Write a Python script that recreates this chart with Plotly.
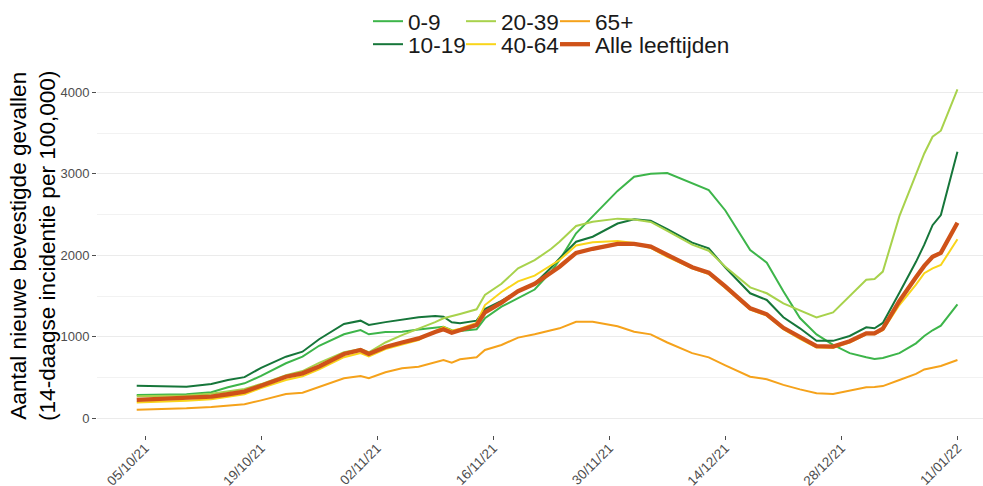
import plotly.graph_objects as go

dates = [
    "2021-10-04", "2021-10-07", "2021-10-10", "2021-10-13", "2021-10-15",
    "2021-10-17", "2021-10-19", "2021-10-22", "2021-10-24", "2021-10-26",
    "2021-10-29", "2021-10-31", "2021-11-01", "2021-11-03", "2021-11-05",
    "2021-11-07", "2021-11-09", "2021-11-10", "2021-11-11", "2021-11-12",
    "2021-11-14", "2021-11-15", "2021-11-17", "2021-11-19", "2021-11-21",
    "2021-11-23", "2021-11-24", "2021-11-26", "2021-11-28", "2021-12-01",
    "2021-12-03", "2021-12-05", "2021-12-07", "2021-12-10", "2021-12-12",
    "2021-12-14", "2021-12-17", "2021-12-19", "2021-12-21", "2021-12-23",
    "2021-12-25", "2021-12-27", "2021-12-29", "2021-12-31", "2022-01-01",
    "2022-01-02", "2022-01-04", "2022-01-06", "2022-01-07", "2022-01-08",
    "2022-01-09", "2022-01-11",
]

age_0_9 = [285, 290, 294, 320, 380, 429, 520, 675, 756, 890,
           1031, 1083, 1031, 1060, 1063, 1090, 1110, 1124, 1080, 1070,
           1092, 1227, 1370, 1480, 1580, 1800, 1942, 2270, 2474, 2790,
           2964, 3000, 3010, 2883, 2801, 2550, 2065, 1909, 1560, 1230,
           1030, 900, 800, 750, 728, 740, 800, 920, 1010, 1080,
           1136, 1399]

age_10_19 = [400, 395, 388, 420, 470, 505, 620, 756, 817, 970,
             1157, 1198, 1145, 1180, 1206, 1239, 1255, 1247, 1178, 1166,
             1198, 1340, 1440, 1560, 1650, 1850, 1963, 2167, 2228, 2390,
             2442, 2425, 2320, 2155, 2086, 1850, 1534, 1452, 1240, 1104,
             952, 950, 1010, 1117, 1104, 1170, 1540, 1920, 2130, 2370,
             2494, 3271]

age_20_39 = [270, 275, 280, 300, 330, 360, 420, 530, 580, 680,
             810, 850, 810, 930, 1020, 1096, 1180, 1227, 1250, 1280,
             1337, 1513, 1650, 1840, 1940, 2080, 2167, 2360, 2412, 2450,
             2440, 2410, 2300, 2130, 2056, 1860, 1607, 1534, 1410, 1320,
             1237, 1300, 1500, 1700, 1709, 1800, 2480, 3000, 3250, 3455,
             3529, 4037]

age_40_64 = [195, 205, 215, 235, 265, 295, 370, 470, 515, 600,
             750, 800, 760, 850, 905, 960, 1070, 1120, 1075, 1100,
             1170, 1390, 1550, 1680, 1750, 1880, 1942, 2120, 2160, 2175,
             2150, 2090, 1980, 1840, 1770, 1600, 1335, 1260, 1095, 975,
             870, 865, 930, 1030, 1030, 1080, 1390, 1640, 1780, 1840,
             1881, 2196]

age_65_plus = [105, 112, 123, 140, 155, 172, 220, 298, 314, 385,
               491, 519, 491, 565, 613, 633, 690, 715, 682, 724,
               748, 838, 900, 990, 1031, 1080, 1104, 1185, 1185, 1130,
               1063, 1030, 930, 800, 748, 650, 510, 479, 410, 355,
               307, 298, 340, 380, 385, 395, 470, 545, 600, 625,
               642, 715]

alle = [225, 235, 245, 265, 295, 327, 400, 510, 552, 635,
        789, 838, 789, 875, 930, 980, 1060, 1092, 1050, 1080,
        1145, 1300, 1420, 1560, 1650, 1790, 1860, 2030, 2080, 2140,
        2140, 2106, 2000, 1853, 1787, 1620, 1350, 1276, 1110, 990,
        885, 879, 945, 1043, 1043, 1100, 1440, 1730, 1870, 1983,
        2030, 2400]

tick_dates = ["2021-10-05", "2021-10-19", "2021-11-02", "2021-11-16",
              "2021-11-30", "2021-12-14", "2021-12-28", "2022-01-11"]
tick_labels = ["05/10/21", "19/10/21", "02/11/21", "16/11/21",
               "30/11/21", "14/12/21", "28/12/21", "11/01/22"]

y_title = "Aantal nieuwe bevestigde gevallen<br>(14-daagse incidentie per 100,000)"

FONT = "Liberation Sans, Arial, sans-serif"
W, H = 983, 486
L, R, T, B = 97, 0, 73, 51

# (name, values, colour, width, legend-id, legend text left px, legend row centre px)
series = [
    ("0-9", age_0_9, "#3DB54A", 2.0, "legend", 404, 20),
    ("10-19", age_10_19, "#16763A", 2.0, "legend2", 404, 44),
    ("20-39", age_20_39, "#A8D24C", 2.0, "legend3", 497, 20),
    ("40-64", age_40_64, "#F9D51A", 2.0, "legend4", 497, 44),
    ("65+", age_65_plus, "#F5A21B", 2.0, "legend5", 591, 20),
    ("Alle leeftijden", alle, "#CF5219", 4.3, "legend6", 591, 44),
]

fig = go.Figure()
legends = {}
for name, vals, color, width, leg, tx, ty in series:
    fig.add_trace(go.Scatter(
        x=dates, y=vals, mode="lines", name=name,
        line=dict(color=color, width=width),
        legend=leg,
    ))
    legends[leg] = dict(
        xref="container", yref="container",
        x=(tx - 36) / W, y=1 - (ty - 21) / H,
        xanchor="left", yanchor="top",
        orientation="v",
        font=dict(family=FONT, size=22.6, color="#1a1a1a"),
        bgcolor="rgba(0,0,0,0)", borderwidth=0,
    )

fig.update_layout(
    width=W, height=H,
    margin=dict(l=L, r=R, t=T, b=B, autoexpand=False),
    paper_bgcolor="white", plot_bgcolor="white",
    font=dict(family=FONT),
    showlegend=True,
    **legends,
    xaxis=dict(
        type="date",
        range=["2021-09-29 05:00", "2022-01-14 02:00"],
        tickvals=tick_dates, ticktext=tick_labels,
        tickangle=-45,
        tickfont=dict(family=FONT, size=13.5, color="#4D4D4D"),
        ticklabelstandoff=-5,
        showgrid=False, zeroline=False, showline=False,
        ticks="outside", ticklen=4, tickcolor="#4D4D4D", tickwidth=1,
    ),
    yaxis=dict(
        range=[-205, 4237],
        tickvals=[0, 1000, 2000, 3000, 4000],
        ticktext=["0", "1000", "2000", "3000", "4000"],
        tickfont=dict(family=FONT, size=13, color="#4D4D4D"),
        showgrid=True, gridcolor="#EBEBEB", gridwidth=1.2,
        minor=dict(tickvals=[500, 1500, 2500, 3500], showgrid=True,
                   gridcolor="#F2F2F2", gridwidth=0.8, ticks=""),
        zeroline=False, showline=False,
        ticks="outside", ticklen=4, tickcolor="#4D4D4D", tickwidth=1,
    ),
    annotations=[dict(
        text=y_title, textangle=-90,
        xref="paper", yref="paper",
        x=(33 - L) / (W - L - R), y=(H - B - 246) / (H - T - B),
        xanchor="center", yanchor="middle", showarrow=False,
        font=dict(family=FONT, size=22.6, color="black"),
    )],
)

fig.write_html("out.html", config={"displayModeBar": False},
               post_script="document.body.style.margin='0';")
